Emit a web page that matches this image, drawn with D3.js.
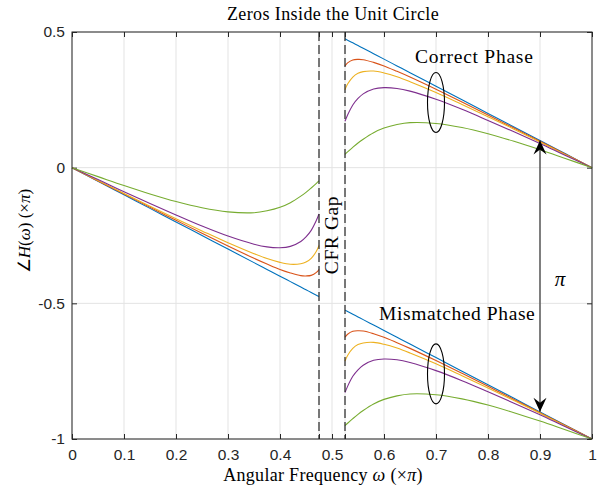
<!DOCTYPE html>
<html>
<head>
<meta charset="utf-8">
<script src="https://cdn.jsdelivr.net/npm/d3@7"></script>
<style>
  body { margin: 0; background: #fff; }
  svg { display: block; }
</style>
</head>
<body>
<div id="chart"></div>
<script>
// angular frequency samples (x pi), below and above the CFR gap
const omegaLow = [0, 0.05, 0.1, 0.15, 0.2, 0.25, 0.3, 0.35, 0.375, 0.4, 0.42, 0.44, 0.45, 0.46, 0.47, 0.475];
const omegaHigh = [0.525, 0.53, 0.54, 0.55, 0.56, 0.58, 0.6, 0.625, 0.65, 0.7, 0.75, 0.8, 0.85, 0.9, 0.95, 1];

// phase (x pi) below the gap, one array per curve
const lowBlue = [0, -0.05, -0.1, -0.15, -0.2, -0.25, -0.3, -0.35, -0.375, -0.4, -0.42, -0.44, -0.45, -0.46, -0.47, -0.475];
const lowRed = [0, -0.049, -0.097, -0.146, -0.194, -0.242, -0.289, -0.334, -0.355, -0.375, -0.388, -0.398, -0.399, -0.397, -0.386, -0.375];
const lowYellow = [0, -0.047, -0.095, -0.142, -0.188, -0.233, -0.277, -0.317, -0.335, -0.349, -0.356, -0.354, -0.348, -0.334, -0.308, -0.287];
const lowPurple = [0, -0.044, -0.089, -0.132, -0.174, -0.215, -0.252, -0.282, -0.292, -0.295, -0.290, -0.272, -0.255, -0.231, -0.194, -0.171];
const lowGreen = [0, -0.033, -0.066, -0.097, -0.125, -0.148, -0.163, -0.166, -0.159, -0.146, -0.129, -0.105, -0.091, -0.075, -0.058, -0.049];

// correct phase above the gap
const correctBlue = [0.475, 0.47, 0.46, 0.45, 0.44, 0.42, 0.4, 0.375, 0.35, 0.3, 0.25, 0.2, 0.15, 0.1, 0.05, 0];
const correctRed = [0.375, 0.386, 0.397, 0.399, 0.398, 0.388, 0.375, 0.355, 0.334, 0.289, 0.242, 0.194, 0.146, 0.097, 0.049, 0];
const correctYellow = [0.287, 0.308, 0.334, 0.348, 0.354, 0.356, 0.349, 0.335, 0.317, 0.277, 0.233, 0.188, 0.142, 0.095, 0.047, 0];
const correctPurple = [0.171, 0.194, 0.231, 0.255, 0.272, 0.290, 0.295, 0.292, 0.282, 0.252, 0.215, 0.174, 0.132, 0.089, 0.044, 0];
const correctGreen = [0.049, 0.058, 0.075, 0.091, 0.105, 0.129, 0.146, 0.159, 0.166, 0.163, 0.148, 0.125, 0.097, 0.066, 0.033, 0];

// mismatched phase above the gap
const mismatchBlue = [-0.525, -0.53, -0.54, -0.55, -0.56, -0.58, -0.6, -0.625, -0.65, -0.7, -0.75, -0.8, -0.85, -0.9, -0.95, -1];
const mismatchRed = [-0.625, -0.614, -0.603, -0.601, -0.602, -0.612, -0.625, -0.645, -0.666, -0.711, -0.758, -0.806, -0.854, -0.903, -0.951, -1];
const mismatchYellow = [-0.713, -0.692, -0.666, -0.652, -0.646, -0.644, -0.651, -0.665, -0.683, -0.723, -0.767, -0.812, -0.858, -0.905, -0.953, -1];
const mismatchPurple = [-0.829, -0.806, -0.769, -0.745, -0.728, -0.710, -0.705, -0.708, -0.718, -0.748, -0.785, -0.826, -0.868, -0.911, -0.956, -1];
const mismatchGreen = [-0.951, -0.942, -0.925, -0.909, -0.895, -0.871, -0.854, -0.841, -0.834, -0.837, -0.852, -0.875, -0.903, -0.934, -0.967, -1];

const xTicks = [0, 0.1, 0.2, 0.3, 0.4, 0.475, 0.5, 0.525, 0.6, 0.7, 0.8, 0.9, 1];
const xTickLabels = ['0', '0.1', '0.2', '0.3', '0.4', '', '0.5', '', '0.6', '0.7', '0.8', '0.9', '1'];
const yTicks = [0.5, 0, -0.5, -1];
const yTickLabels = ['0.5', '0', '-0.5', '-1'];
const gapEdges = [0.475, 0.525];

const colors = ['#0072BD', '#D95319', '#EDB120', '#7E2F8E', '#77AC30'];

const width = 602, height = 489;
const margin = { top: 32, right: 10, bottom: 50, left: 72 };

const svg = d3.select('#chart')
  .append('svg')
  .attr('width', width)
  .attr('height', height);

const x = d3.scaleLinear().domain([0, 1]).range([margin.left, width - margin.right]);
const y = d3.scaleLinear().domain([-1, 0.5]).range([height - margin.bottom, margin.top]);

const serif = "'Liberation Serif', 'Times New Roman', serif";
const sans = "'Liberation Sans', Arial, sans-serif";

// grid
const grid = svg.append('g').attr('stroke', '#e3e3e3').attr('stroke-width', 1);
grid.selectAll('line.v').data(xTicks).enter().append('line')
  .attr('x1', d => x(d)).attr('x2', d => x(d))
  .attr('y1', y(0.5)).attr('y2', y(-1));
grid.selectAll('line.h').data(yTicks).enter().append('line')
  .attr('x1', x(0)).attr('x2', x(1))
  .attr('y1', d => y(d)).attr('y2', d => y(d));

// axes with inward ticks
const fmtX = (d, i) => xTickLabels[i];
const fmtY = (d, i) => yTickLabels[i];

const axB = svg.append('g')
  .attr('transform', 'translate(0,' + y(-1) + ')')
  .call(d3.axisBottom(x).tickValues(xTicks).tickFormat(fmtX).tickSizeInner(-5).tickSizeOuter(0).tickPadding(10));
const axT = svg.append('g')
  .attr('transform', 'translate(0,' + y(0.5) + ')')
  .call(d3.axisTop(x).tickValues(xTicks).tickFormat('').tickSizeInner(-5).tickSizeOuter(0));
const axL = svg.append('g')
  .attr('transform', 'translate(' + x(0) + ',0)')
  .call(d3.axisLeft(y).tickValues(yTicks).tickFormat(fmtY).tickSizeInner(-5).tickSizeOuter(0).tickPadding(7));
const axR = svg.append('g')
  .attr('transform', 'translate(' + x(1) + ',0)')
  .call(d3.axisRight(y).tickValues(yTicks).tickFormat('').tickSizeInner(-5).tickSizeOuter(0));

[axB, axT, axL, axR].forEach(a => {
  a.select('.domain').remove();
  a.selectAll('.tick line').attr('stroke', '#262626');
  a.selectAll('.tick text')
    .attr('fill', '#262626')
    .style('font-family', sans)
    .style('font-size', '15.5px');
});

// curves
const line = d3.line()
  .x(d => x(d[0]))
  .y(d => y(d[1]))
  .curve(d3.curveCatmullRom.alpha(0.5));

const lowSets = [lowBlue, lowRed, lowYellow, lowPurple, lowGreen];
const correctSets = [correctBlue, correctRed, correctYellow, correctPurple, correctGreen];
const mismatchSets = [mismatchBlue, mismatchRed, mismatchYellow, mismatchPurple, mismatchGreen];

const curves = svg.append('g').attr('fill', 'none').attr('stroke-width', 1.1);
[[omegaLow, lowSets], [omegaHigh, correctSets], [omegaHigh, mismatchSets]].forEach(([om, sets]) => {
  sets.forEach((vals, i) => {
    curves.append('path')
      .attr('d', line(om.map((w, j) => [w, vals[j]])))
      .attr('stroke', colors[i]);
  });
});

// dashed gap edges
svg.append('g').selectAll('line').data(gapEdges).enter().append('line')
  .attr('x1', d => x(d)).attr('x2', d => x(d))
  .attr('y1', y(0.5)).attr('y2', y(-1))
  .attr('stroke', '#262626')
  .attr('stroke-width', 1.2)
  .attr('stroke-dasharray', '9,4');

// frame
svg.append('rect')
  .attr('x', x(0)).attr('y', y(0.5))
  .attr('width', x(1) - x(0)).attr('height', y(-1) - y(0.5))
  .attr('fill', 'none').attr('stroke', '#262626').attr('stroke-width', 1);

// title and labels
svg.append('text')
  .attr('x', 333).attr('y', 20)
  .attr('text-anchor', 'middle')
  .style('font-family', serif).style('font-size', '18px').style('letter-spacing', '0.4px')
  .attr('fill', '#000')
  .text('Zeros Inside the Unit Circle');

const xl = svg.append('text')
  .attr('x', 323).attr('y', 481)
  .attr('text-anchor', 'middle')
  .style('font-family', serif).style('font-size', '18px').style('letter-spacing', '0.3px');
xl.append('tspan').text('Angular Frequency ');
xl.append('tspan').style('font-style', 'italic').text('ω');
xl.append('tspan').text(' (×');
xl.append('tspan').style('font-style', 'italic').text('π');
xl.append('tspan').text(')');

const yl = svg.append('text')
  .attr('transform', 'translate(30,231) rotate(-90)')
  .attr('text-anchor', 'middle')
  .style('font-family', serif).style('font-size', '17px');
yl.append('tspan').text('∠');
yl.append('tspan').style('font-style', 'italic').text('H');
yl.append('tspan').text('(');
yl.append('tspan').style('font-style', 'italic').text('ω');
yl.append('tspan').text(') (×');
yl.append('tspan').style('font-style', 'italic').text('π');
yl.append('tspan').text(')');

// annotations
svg.append('text')
  .attr('transform', 'translate(338,235) rotate(-90)')
  .attr('text-anchor', 'middle')
  .style('font-family', serif).style('font-size', '19.5px').style('letter-spacing', '0.6px')
  .text('CFR Gap');

svg.append('text')
  .attr('x', 415).attr('y', 63)
  .style('font-family', serif).style('font-size', '19.5px').style('letter-spacing', '0.75px')
  .text('Correct Phase');

svg.append('text')
  .attr('x', 379).attr('y', 320)
  .style('font-family', serif).style('font-size', '19.5px').style('letter-spacing', '0.6px')
  .text('Mismatched Phase');

svg.append('ellipse')
  .attr('cx', x(0.7)).attr('cy', y(0.24)).attr('rx', 8.5).attr('ry', 30)
  .attr('fill', 'none').attr('stroke', '#000').attr('stroke-width', 1.1);
svg.append('ellipse')
  .attr('cx', x(0.7)).attr('cy', y(-0.76)).attr('rx', 8.5).attr('ry', 30)
  .attr('fill', 'none').attr('stroke', '#000').attr('stroke-width', 1.1);

// double arrow of height pi
const defs = svg.append('defs');
defs.append('marker')
  .attr('id', 'head')
  .attr('viewBox', '-15 -8 16 16')
  .attr('refX', 0).attr('refY', 0)
  .attr('markerWidth', 16).attr('markerHeight', 16)
  .attr('markerUnits', 'userSpaceOnUse')
  .attr('orient', 'auto-start-reverse')
  .append('path')
  .attr('d', 'M0,0 L-14,-6.5 L-9,0 L-14,6.5 Z')
  .attr('fill', '#000');

svg.append('line')
  .attr('x1', x(0.9)).attr('x2', x(0.9))
  .attr('y1', y(0.1)).attr('y2', y(-0.9))
  .attr('stroke', '#333').attr('stroke-width', 1.2)
  .attr('marker-start', 'url(#head)')
  .attr('marker-end', 'url(#head)');

svg.append('text')
  .attr('x', 560).attr('y', 286)
  .attr('text-anchor', 'middle')
  .style('font-family', serif).style('font-size', '21px').style('font-style', 'italic')
  .text('π');
</script>
</body>
</html>
